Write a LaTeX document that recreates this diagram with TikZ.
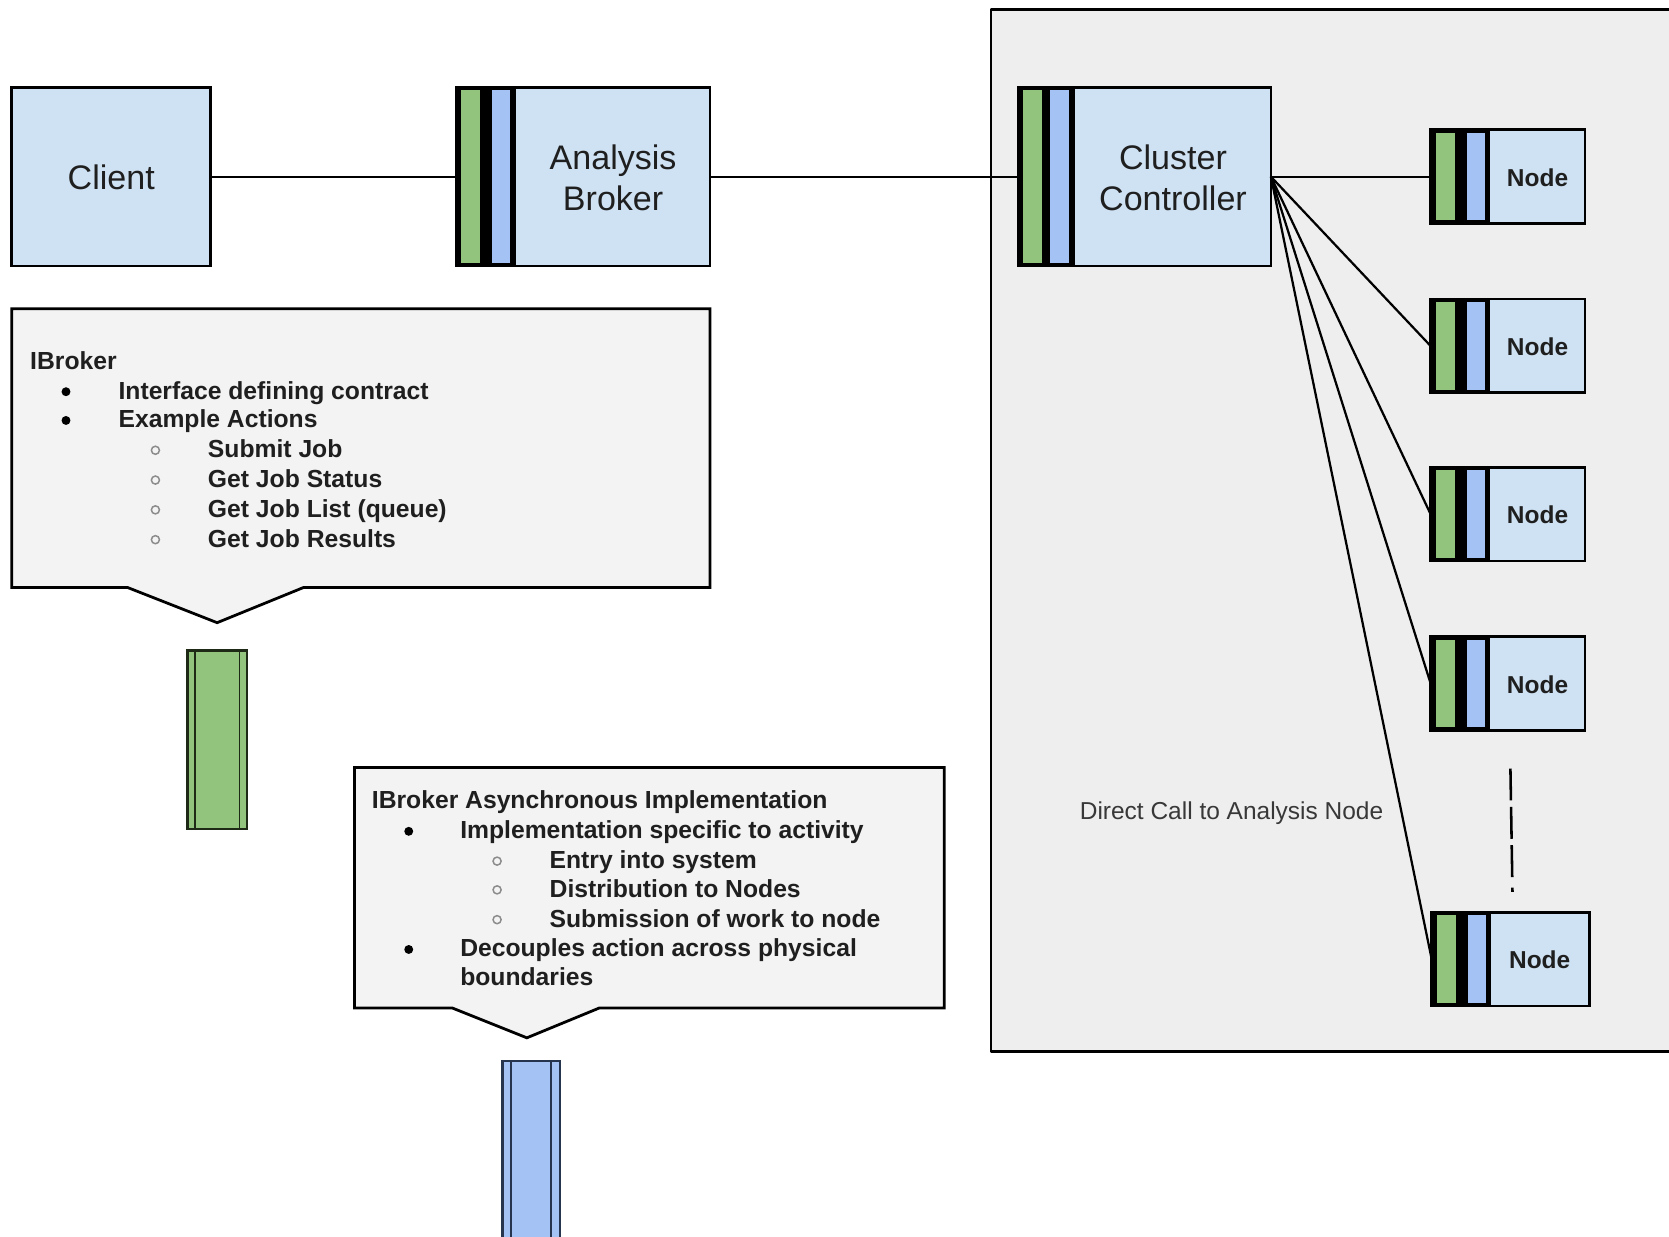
\documentclass[tikz,border=0pt]{standalone}
\usepackage{fontspec}
\setmainfont{Liberation Sans}
\definecolor{lightblue}{HTML}{CFE2F3}
\definecolor{gfill}{HTML}{93C47D}
\definecolor{bfill}{HTML}{A4C2F4}
\definecolor{panelgray}{HTML}{EEEEEE}
\definecolor{calloutgray}{HTML}{F3F3F3}
\definecolor{gdark}{HTML}{1E2A16}
\definecolor{bdark}{HTML}{27344D}
\newcommand{\compstrip}[6]{%
  \fill[black] (#1.north west) rectangle ([shift={(#2,0)}]#1.south west);
  \fill[gfill] ([shift={(#3,3)}]#1.north west) rectangle ([shift={(#4,-3)}]#1.south west);
  \fill[bfill] ([shift={(#5,3)}]#1.north west) rectangle ([shift={(#6,-3)}]#1.south west);
  \draw[boxline] (#1.north west) rectangle (#1.south east);
}
\begin{document}
\begin{tikzpicture}[x=0.5pt,y=-0.5pt,
  boxline/.style={draw=black,line width=1.3pt,line join=round},
  comp/.style={rectangle,draw=black,line width=1.3pt,fill=lightblue,inner sep=0pt,outer sep=0pt},
  biglbl/.style={font=\fontsize{16}{19}\selectfont,align=center,text=black!88,inner sep=0pt},
  nodelbl/.style={font=\fontsize{11.5}{14}\selectfont\bfseries,text=black!88,inner sep=0pt},
  wire/.style={draw=black,line width=1.05pt},
  callout/.style={draw=black,line width=1.3pt,fill=calloutgray,line join=miter},
  ctext/.style={font=\fontsize{11.6}{14}\selectfont\bfseries,anchor=base west,inner sep=0pt,text=black!88},
  hollow/.style={draw=black!45,line width=0.7pt},
  bar/.style={rectangle,inner sep=0pt,outer sep=0pt,line width=1.1pt}
]
\useasboundingbox (0,0) rectangle (1568,1162);
\clip (0,0) rectangle (1568,1162);
\fill[white] (0,0) rectangle (1568,1162);

% panel
\draw[boxline,fill=panelgray] (931,9) rectangle (1620,988);

% components
\node[comp,minimum width=93.5pt,minimum height=84pt] (client) at (104.5,166) {};
\node[biglbl] (clientlbl) at (104.5,167) {Client};

\node[comp,minimum width=119pt,minimum height=84pt] (broker) at (548,166) {};
\compstrip{broker}{56}{4}{22}{33}{50}
\node[biglbl] (brokerlbl) at (576,167) {Analysis\\Broker};

\node[comp,minimum width=118.5pt,minimum height=84pt] (cluster) at (1075.5,166) {};
\compstrip{cluster}{53}{4}{22}{29}{47}
\node[biglbl] (clusterlbl) at (1102,167) {Cluster\\Controller};

\foreach \i/\cy in {1/166,2/325,3/483,4/642}{
  \node[comp,minimum width=72.5pt,minimum height=44pt] (n\i) at (1416.5,\cy) {};
  \compstrip{n\i}{56}{5}{23}{34}{51}
  \node[nodelbl] (n\i lbl) at (1444.5,\cy+1) {Node};
}
\node[comp,minimum width=74pt,minimum height=44pt] (n5) at (1419,901) {};
\compstrip{n5}{56}{5}{23}{34}{51}
\node[nodelbl] (n5lbl) at (1446.5,902) {Node};

% connectors
\draw[wire] (client.east) -- (broker.west);
\draw[wire] (broker.east) -- (cluster.west);
\foreach \i in {1,...,5}{
  \draw[wire] (cluster.east) -- (n\i.west);
}

% dashed continuation
\coordinate (dtop) at (1419,722);
\coordinate (dbot) at (1421,841);
\draw[line width=1.2pt,dash pattern=on 15pt off 3pt on 15pt off 3pt on 15pt off 5pt on 2pt off 20pt] (dtop) -- (dbot);

\node[font=\fontsize{11.5}{14}\selectfont,text=black!78,inner sep=0pt] (direct) at (1157,764) {Direct Call to Analysis Node};

% callout 1
\draw[callout] (11,290) -- (667,290) -- (667,552) -- (285,552) -- (204,585) -- (120,552) -- (11,552) -- cycle;
\node[ctext] (c1a) at (28,347) {IBroker};
\node[ctext] (c1b) at (111,375) {Interface defining contract};
\node[ctext] (c1c) at (111,402) {Example Actions};
\node[ctext] (c1d) at (195,430) {Submit Job};
\node[ctext] (c1e) at (195,458) {Get Job Status};
\node[ctext] (c1f) at (195,486) {Get Job List (queue)};
\node[ctext] (c1g) at (195,514) {Get Job Results};
\fill[black] (62,368) circle (2.1pt);
\fill[black] (62,395) circle (2.1pt);
\foreach \yy in {423,451,479,507}{\draw[hollow] (146,\yy) circle (1.9pt);}

% callout 2
\draw[callout] (333,721) -- (887,721) -- (887,947) -- (563,947) -- (495,975) -- (425,947) -- (333,947) -- cycle;
\node[ctext] (c2a) at (349,760) {IBroker Asynchronous Implementation};
\node[ctext] (c2b) at (432,788) {Implementation specific to activity};
\node[ctext] (c2c) at (516,816) {Entry into system};
\node[ctext] (c2d) at (516,843) {Distribution to Nodes};
\node[ctext] (c2e) at (516,871) {Submission of work to node};
\node[ctext] (c2f) at (432,899) {Decouples action across physical};
\node[ctext] (c2g) at (432,926) {boundaries};
\fill[black] (384,781) circle (2.1pt);
\fill[black] (384,892) circle (2.1pt);
\foreach \yy in {809,836,864}{\draw[hollow] (467,\yy) circle (1.9pt);}

% interface bars
\node[bar,draw=gdark,fill=gfill,minimum width=28pt,minimum height=84pt] (gbar) at (204,695) {};
\draw[gdark,line width=0.9pt] ([shift={(7,0)}]gbar.north west) -- ([shift={(7,0)}]gbar.south west);
\draw[gdark,line width=0.9pt] ([shift={(-7,0)}]gbar.north east) -- ([shift={(-7,0)}]gbar.south east);

\node[bar,draw=bdark,fill=bfill,minimum width=27pt,minimum height=86.5pt] (bbar) at (499,1083.5) {};
\draw[bdark,line width=0.9pt] ([shift={(8,0)}]bbar.north west) -- ([shift={(8,0)}]bbar.south west);
\draw[bdark,line width=0.9pt] ([shift={(-8,0)}]bbar.north east) -- ([shift={(-8,0)}]bbar.south east);
\end{tikzpicture}
\end{document}
